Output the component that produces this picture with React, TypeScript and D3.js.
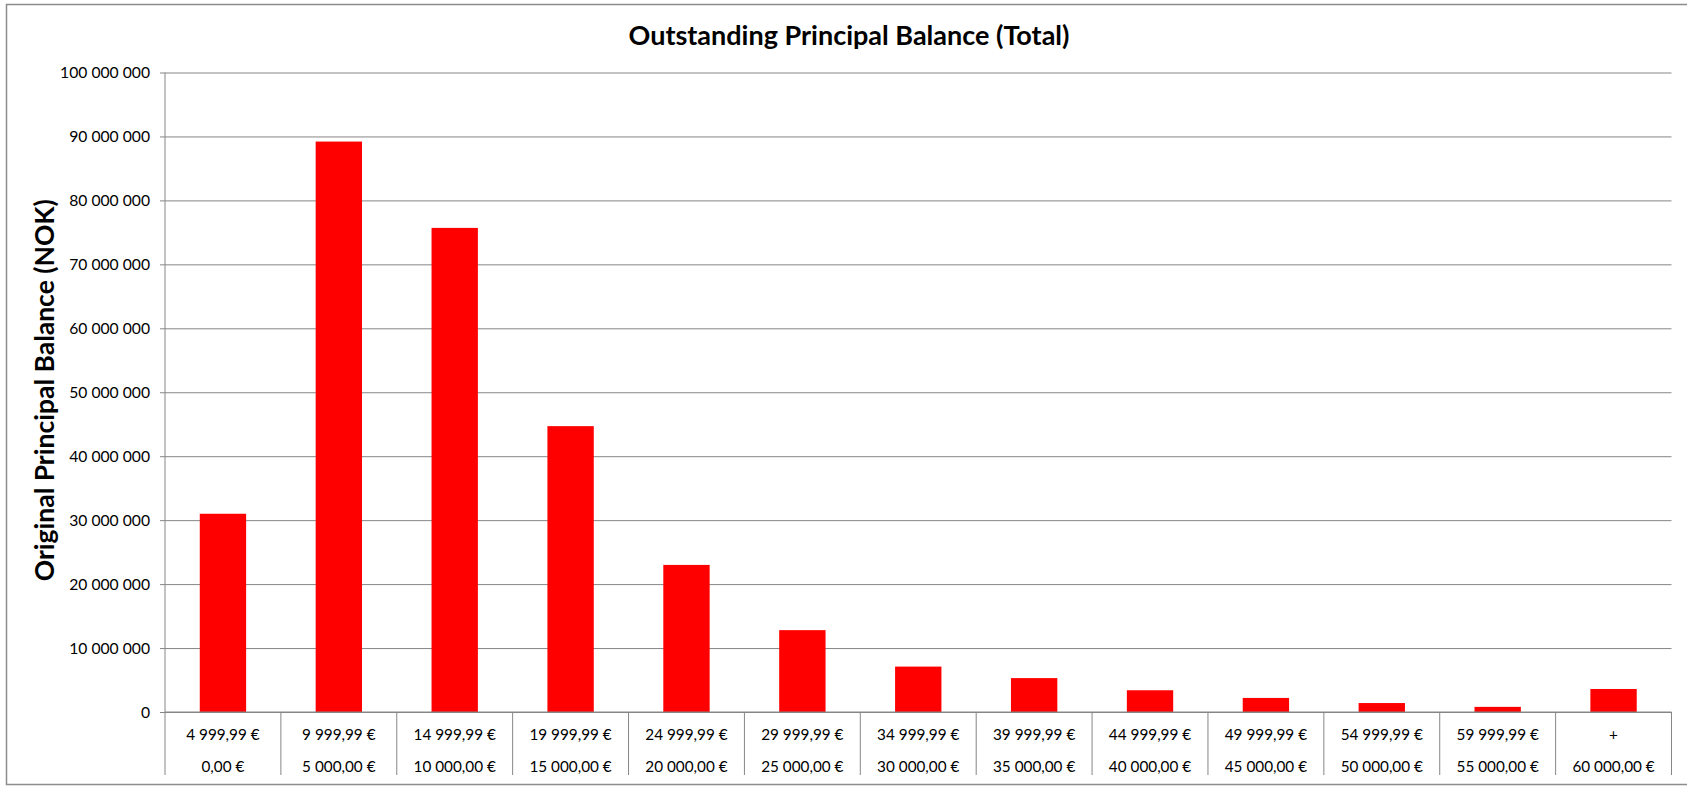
import React, { useEffect, useRef } from 'react';
import * as d3 from 'd3';

// Loan size buckets (upper bound on first row, lower bound on second row)
const bucketUpper = [
    '4 999,99 €', '9 999,99 €', '14 999,99 €', '19 999,99 €', '24 999,99 €',
    '29 999,99 €', '34 999,99 €', '39 999,99 €', '44 999,99 €', '49 999,99 €',
    '54 999,99 €', '59 999,99 €', '+',
];
const bucketLower = [
    '0,00 €', '5 000,00 €', '10 000,00 €', '15 000,00 €', '20 000,00 €',
    '25 000,00 €', '30 000,00 €', '35 000,00 €', '40 000,00 €', '45 000,00 €',
    '50 000,00 €', '55 000,00 €', '60 000,00 €',
];
const balances = [
    31000000, 89200000, 75700000, 44700000, 23000000, 12800000, 7100000,
    5300000, 3400000, 2200000, 1400000, 800000, 3600000,
];
const yTicks = [0, 10000000, 20000000, 30000000, 40000000, 50000000, 60000000, 70000000, 80000000, 90000000, 100000000];

const TITLE = 'Outstanding Principal Balance (Total)';
const Y_TITLE = 'Original Principal Balance (NOK)';

const W = 1687;
const H = 787;
const FONT = 'Lato, "Open Sans", sans-serif';

const App = () => {
    const svgRef = useRef(null);

    useEffect(() => {
        document.body.style.margin = '0';
        const svg = d3.select(svgRef.current);
        svg.selectAll('*').remove();

        const margin = { top: 72.5, right: 15.5, bottom: 75, left: 165 };
        const width = W - margin.left - margin.right;
        const height = H - margin.top - margin.bottom;

        const nok = d3.formatLocale({ decimal: ',', thousands: ' ', grouping: [3], currency: ['', ' €'] }).format(',');

        // Outer chart frame (runs off the right edge like the original)
        svg.append('rect')
            .attr('x', 6.5)
            .attr('y', 4.5)
            .attr('width', W + 10)
            .attr('height', 780)
            .attr('fill', '#fff')
            .attr('stroke', '#8c8c8c')
            .attr('stroke-width', 1.5);

        const g = svg.append('g').attr('transform', `translate(${margin.left},${margin.top})`);

        const idx = bucketUpper.map((_, i) => i);
        const x = d3.scaleBand<number>().domain(idx).range([0, width]).paddingInner(0.6).paddingOuter(0.3);
        const y = d3.scaleLinear().domain([0, 100000000]).range([height, 0]);
        const step = x.step();

        // Grid lines + y axis
        const yAxis = d3.axisLeft(y)
            .tickValues(yTicks)
            .tickSize(-width)
            .tickPadding(10)
            .tickFormat(d => nok(d as number));

        const ya = g.append('g').call(yAxis);
        ya.select('.domain').remove();
        ya.selectAll('line').attr('stroke', '#868686').attr('x1', -5);
        ya.selectAll('text')
            .attr('font-family', FONT)
            .attr('font-size', 15.7)
            .attr('fill', '#000')
            .attr('x', -15);

        g.append('line')
            .attr('x1', 0).attr('x2', 0)
            .attr('y1', 0).attr('y2', height)
            .attr('stroke', '#868686');

        // Bars
        g.selectAll('rect.bar')
            .data(balances)
            .join('rect')
            .attr('class', 'bar')
            .attr('x', (_, i) => x(i))
            .attr('y', d => y(d))
            .attr('width', x.bandwidth())
            .attr('height', d => height - y(d))
            .attr('fill', '#ff0000');

        // Category axis: baseline, dividers and two-row labels
        const xa = g.append('g').attr('transform', `translate(0,${height})`);
        xa.append('line')
            .attr('x1', 0).attr('x2', width)
            .attr('stroke', '#868686');
        xa.selectAll('line.div')
            .data(d3.range(bucketUpper.length + 1))
            .join('line')
            .attr('class', 'div')
            .attr('x1', i => i * step).attr('x2', i => i * step)
            .attr('y1', 0).attr('y2', 63)
            .attr('stroke', '#868686');

        xa.selectAll('text.up')
            .data(bucketUpper)
            .join('text')
            .attr('class', 'up')
            .attr('x', (_, i) => x(i) + x.bandwidth() / 2)
            .attr('y', 28)
            .attr('text-anchor', 'middle')
            .attr('font-family', FONT)
            .attr('font-size', 15.3)
            .text(d => d);

        xa.selectAll('text.low')
            .data(bucketLower)
            .join('text')
            .attr('class', 'low')
            .attr('x', (_, i) => x(i) + x.bandwidth() / 2)
            .attr('y', 60)
            .attr('text-anchor', 'middle')
            .attr('font-family', FONT)
            .attr('font-size', 15.3)
            .text(d => d);

        // Titles
        svg.append('text')
            .attr('x', 849)
            .attr('y', 45)
            .attr('text-anchor', 'middle')
            .attr('font-family', FONT)
            .attr('font-weight', 'bold')
            .attr('font-size', 27)
            .text(TITLE);

        svg.append('text')
            .attr('transform', `translate(54,${margin.top + height / 2 - 2}) rotate(-90)`)
            .attr('text-anchor', 'middle')
            .attr('font-family', FONT)
            .attr('font-weight', 'bold')
            .attr('font-size', 26.5)
            .text(Y_TITLE);
    }, []);

    return (
        <div style={{ position: 'absolute', left: 0, top: 0, width: W, height: H, background: '#fff' }}>
            <svg ref={svgRef} width={W} height={H} aria-label="Outstanding principal balance bar chart"></svg>
        </div>
    );
};

export default App;
